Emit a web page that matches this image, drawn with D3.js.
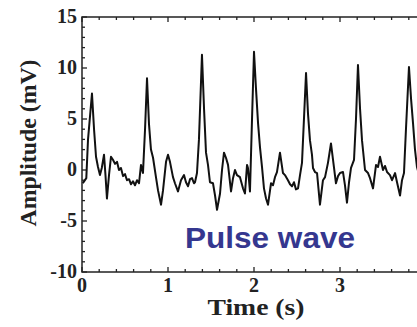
<html>
<head>
<script src="https://d3js.org/d3.v7.min.js"></script>
<style>
  body { margin: 0; background: #fff; }
  svg { display: block; }
  .serif { font-family: "Times New Roman", "Liberation Serif", Times, serif; font-weight: 700; fill: #222; }
</style>
</head>
<body>
<svg width="417" height="327"></svg>
<script>
// pulse wave trace (time in s, amplitude in mV)
var times = [0.01, 0.05, 0.07, 0.116, 0.14, 0.163, 0.186, 0.209, 0.23, 0.256, 0.273, 0.29, 0.314, 0.337,
  0.36, 0.384, 0.407, 0.43, 0.453, 0.477, 0.5, 0.523, 0.547, 0.57, 0.593, 0.616, 0.64, 0.663, 0.686, 0.709,
  0.733, 0.756, 0.779, 0.802, 0.826, 0.86, 0.884, 0.919, 0.942, 0.977, 1.0, 1.023, 1.058, 1.081, 1.116,
  1.151, 1.186, 1.209, 1.233, 1.256, 1.279, 1.302, 1.314, 1.337, 1.36, 1.395, 1.419, 1.442, 1.465, 1.488,
  1.523, 1.547, 1.57, 1.605, 1.628, 1.651, 1.674, 1.698, 1.733, 1.756, 1.779, 1.802, 1.837, 1.872, 1.895,
  1.919, 1.93, 1.953, 1.977, 2.0, 2.023, 2.047, 2.07, 2.093, 2.116, 2.14, 2.163, 2.198, 2.221, 2.244,
  2.267, 2.302, 2.337, 2.36, 2.395, 2.419, 2.442, 2.465, 2.488, 2.512, 2.535, 2.558, 2.581, 2.605, 2.628,
  2.651, 2.674, 2.686, 2.709, 2.733, 2.767, 2.802, 2.826, 2.86, 2.895, 2.919, 2.953, 2.977, 3.0, 3.035,
  3.058, 3.081, 3.105, 3.128, 3.163, 3.186, 3.209, 3.233, 3.256, 3.291, 3.326, 3.349, 3.384, 3.419,
  3.442, 3.465, 3.5, 3.523, 3.547, 3.581, 3.605, 3.64, 3.663, 3.698, 3.721, 3.744, 3.767, 3.802, 3.826,
  3.849, 3.872, 3.895, 3.92];
var amps = [-1.3, -0.8, 3, 7.5, 4, 1.3, 0.3, -0.5, 0.2, 1.5, -0.5, -2.8, -0.5, 1.3,
  1.0, 0.6, 0.8, 0.0, 0.2, -0.6, -0.4, -1.0, -0.9, -1.4, -1.1, -1.5, -1.0, -1.3, 0.5, -0.3,
  4, 9.0, 4.5, 2.0, 1.2, -0.7, -2.0, -3.4, -2.0, 0.8, 1.5, 0.8, -0.7, -1.3, -2.1,
  -1.0, -0.5, -1.2, -1.6, -0.9, -0.8, -1.3, -1.2, -0.3, 3, 11.3, 6, 1.7, 0.5, -1.2,
  -1.3, -2.5, -3.9, -2.3, 0, 1.7, 1.2, 0.5, -2.1, -0.8, 0, -0.5, -0.7, -1.8, -2.3,
  0.5, 0.2, -2.1, 5, 11.6, 8, 4.6, 2.2, 0.3, -1.8, -2.8, -3.4, -1.3, -1.5, -0.7,
  -0.2, 1.7, -0.3, -0.5, -1.0, -1.4, -1.6, -1.2, -1.9, -1.8, -0.5, 0.7, 5, 9.5, 5.5,
  2.9, 1.5, 0.2, -0.2, -0.3, -3.4, -1.0, -0.7, 0.7, 2.6, 1.0, -1.3, -0.6, -0.3, -0.2,
  -1.5, -3.2, -1.2, 0.2, 1.0, 5, 10.3, 6, 2.9, 0, -0.3, -0.8, -1.8, 0.5,
  0.3, 1.3, 0, 0.4, -0.2, -0.5, -1.0, -0.3, -1.2, -2.5, -1.0, -0.3, 4, 10.1, 7,
  4.6, 2, 0.3, -0.5];

var xTicks = [0, 1, 2, 3];
var yTicks = [-10, -5, 0, 5, 10, 15];

var svg = d3.select("svg");
var plotLeft = 82, plotTop = 17, plotBottom = 272;
var x = d3.scaleLinear().domain([0, 4]).range([plotLeft, plotLeft + 4 * 86]);
var y = d3.scaleLinear().domain([-10, 15]).range([plotBottom, plotTop]);

var data = times.map(function(t, i) { return [t, amps[i]]; });

var plot = svg.append("g");

// frame
plot.append("rect")
  .attr("x", x(0)).attr("y", y(15))
  .attr("width", x(4) - x(0)).attr("height", y(-10) - y(15))
  .attr("fill", "none").attr("stroke", "#222").attr("stroke-width", 1.5);

// inward ticks, minor every 0.2 s / 1 mV
function isMajor(d) { return Math.abs(d - Math.round(d)) < 1e-6; }
var xMinor = d3.range(0, 4.01, 0.2);
plot.selectAll(".xt").data(xMinor).enter().append("line")
  .attr("x1", function(d) { return x(d); }).attr("x2", function(d) { return x(d); })
  .attr("y1", plotBottom).attr("y2", function(d) { return plotBottom - (isMajor(d) ? 5 : 3); })
  .attr("stroke", "#222").attr("stroke-width", 1.3);
plot.selectAll(".xtt").data(xMinor).enter().append("line")
  .attr("x1", function(d) { return x(d); }).attr("x2", function(d) { return x(d); })
  .attr("y1", plotTop).attr("y2", function(d) { return plotTop + (isMajor(d) ? 5 : 3); })
  .attr("stroke", "#222").attr("stroke-width", 1.3);
var yMinor = d3.range(-10, 15.01, 1);
plot.selectAll(".yt").data(yMinor).enter().append("line")
  .attr("x1", plotLeft).attr("x2", function(d) { return plotLeft + (d % 5 === 0 ? 5 : 3); })
  .attr("y1", function(d) { return y(d); }).attr("y2", function(d) { return y(d); })
  .attr("stroke", "#222").attr("stroke-width", 1.3);

// tick labels
svg.selectAll(".yl").data(yTicks).enter().append("text")
  .attr("class", "serif")
  .attr("x", 77).attr("y", function(d) { return y(d) + 6; })
  .attr("text-anchor", "end")
  .style("font-size", "20px")
  .text(function(d) { return d; });
svg.selectAll(".xl").data(xTicks).enter().append("text")
  .attr("class", "serif")
  .attr("x", function(d) { return x(d); }).attr("y", 292)
  .attr("text-anchor", "middle")
  .style("font-size", "20px")
  .text(function(d) { return d; });

// trace
var line = d3.line().x(function(d) { return x(d[0]); }).y(function(d) { return y(d[1]); });
svg.append("path").datum(data)
  .attr("d", line)
  .attr("fill", "none").attr("stroke", "#111").attr("stroke-width", 2)
  .attr("stroke-linejoin", "round");

// titles
svg.append("text")
  .attr("class", "serif")
  .attr("transform", "translate(36,143) rotate(-90)")
  .attr("text-anchor", "middle")
  .attr("textLength", 167).attr("lengthAdjust", "spacingAndGlyphs")
  .style("font-size", "24px")
  .text("Amplitude (mV)");
svg.append("text")
  .attr("class", "serif")
  .attr("x", 256).attr("y", 315)
  .attr("text-anchor", "middle")
  .attr("textLength", 97).attr("lengthAdjust", "spacingAndGlyphs")
  .style("font-size", "24px")
  .text("Time (s)");
svg.append("text")
  .attr("x", 185).attr("y", 248)
  .attr("textLength", 170).attr("lengthAdjust", "spacingAndGlyphs")
  .style("font", "bold 29px 'Liberation Sans', Arial, sans-serif").attr("fill", "#35378f")
  .text("Pulse wave");
</script>
</body>
</html>
